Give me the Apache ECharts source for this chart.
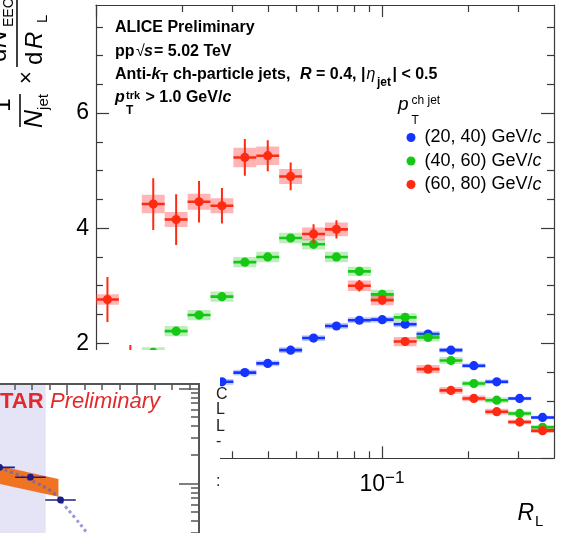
<!DOCTYPE html>
<html>
<head>
<meta charset="utf-8">
<script src="https://cdn.jsdelivr.net/npm/echarts@6/dist/echarts.min.js"></script>
<style>
  html, body { margin: 0; padding: 0; background: #fff; }
  #chart { width: 564px; height: 533px; }
</style>
</head>
<body>
<div id="chart"></div>
<script>
// ---- R_L binning (log-spaced bins between 0.01 and 0.4) ----
const RL_EDGES = [0.010000, 0.012026, 0.014461, 0.017390, 0.020913, 0.025149, 0.030242, 0.036368,
  0.043734, 0.052593, 0.063245, 0.076056, 0.091461, 0.109986, 0.132264, 0.159054, 0.191270,
  0.230013, 0.276600, 0.332626, 0.400000];
const RL_CENTERS = [0.010966, 0.013187, 0.015858, 0.019070, 0.022933, 0.027578, 0.033164, 0.039881,
  0.047960, 0.057674, 0.069356, 0.083404, 0.100297, 0.120612, 0.145042, 0.174420, 0.209749,
  0.252234, 0.303325, 0.364767];

// ---- EEC distributions per charged-jet pT interval ----
const EEC_20_40  = [null, null, null, null, null, 1.33, 1.49, 1.65, 1.88, 2.09, 2.30, 2.40, 2.41, 2.33, 2.16, 1.88, 1.61, 1.33, 1.04, 0.71];
const STAT_20_40 = [null, null, null, null, null, 0.02, 0.02, 0.02, 0.02, 0.02, 0.02, 0.02, 0.02, 0.02, 0.02, 0.02, 0.02, 0.02, 0.02, 0.02];
const SYS_20_40  = [null, null, null, null, null, 0.05, 0.05, 0.05, 0.05, 0.05, 0.05, 0.05, 0.05, 0.05, 0.05, 0.04, 0.04, 0.04, 0.03, 0.03];

const EEC_40_60  = [null, null, 1.84, 2.21, 2.49, 2.81, 3.41, 3.50, 3.83, 3.72, 3.50, 3.25, 2.85, 2.45, 2.10, 1.70, 1.30, 1.01, 0.78, 0.54];
const STAT_40_60 = [null, null, 0.07, 0.06, 0.05, 0.05, 0.05, 0.04, 0.04, 0.04, 0.04, 0.03, 0.03, 0.03, 0.03, 0.02, 0.02, 0.02, 0.02, 0.02];
const SYS_40_60  = [null, null, 0.09, 0.09, 0.09, 0.09, 0.09, 0.09, 0.09, 0.09, 0.09, 0.08, 0.08, 0.07, 0.07, 0.06, 0.05, 0.05, 0.04, 0.04];

const EEC_60_80  = [2.76, 1.60, 4.42, 4.15, 4.46, 4.39, 5.23, 5.26, 4.90, 3.90, 3.98, 3.00, 2.75, 2.03, 1.55, 1.18, 1.04, 0.81, 0.63, 0.48];
const STAT_60_80 = [0.39, 0.37, 0.45, 0.44, 0.36, 0.31, 0.32, 0.27, 0.24, 0.17, 0.16, 0.10, 0.08, 0.06, 0.05, 0.04, 0.04, 0.03, 0.03, 0.03];
const SYS_60_80  = [0.09, 0.09, 0.16, 0.13, 0.14, 0.13, 0.17, 0.16, 0.13, 0.11, 0.12, 0.09, 0.09, 0.08, 0.07, 0.06, 0.05, 0.05, 0.04, 0.04];

const LEGEND_NAMES = ['(20, 40) GeV/c', '(40, 60) GeV/c', '(60, 80) GeV/c'];

// ---- ALICE axes ----
const Y_MAJOR = [0, 2, 4, 6];
const Y_LABELS = [2, 4, 6];
const Y_MINOR = [0.5, 1, 1.5, 2.5, 3, 3.5, 4.5, 5, 5.5, 6.5, 7, 7.5];
const X_MAJOR = [0.01, 0.1];
const X_LABELS = [0.1];
const X_MINOR = [0.02, 0.03, 0.04, 0.05, 0.06, 0.07, 0.08, 0.09, 0.2, 0.3];

// ---- STAR panel ----
const STAR_X    = [0.104, 0.148, 0.191];
const STAR_XERR = [0.0218, 0.0218, 0.0218];
const STAR_Y    = [0.147, 0.116, 0.0667];
const BAND_X    = [0.100, 0.188];
const BAND_LO   = [0.100, 0.072];
const BAND_HI   = [0.155, 0.111];
const MODEL_X   = [0.095, 0.148, 0.183, 0.197, 0.212, 0.229, 0.240];
const MODEL_Y   = [0.152, 0.108, 0.077, 0.058, 0.043, 0.030, 0.024];
const SHADE_X   = [0.050, 0.1698];
const STAR_X_MAJOR = [0.1, 0.2, 0.3];
const STAR_X_MINOR = [0.125, 0.15, 0.175, 0.225, 0.25, 0.275, 0.325, 0.35, 0.375];
const STAR_Y_MAJOR = [0.01, 0.1, 1];
const STAR_Y_MINOR = [0.02, 0.03, 0.04, 0.05, 0.06, 0.07, 0.08, 0.09, 0.2, 0.3, 0.4, 0.5, 0.6, 0.7, 0.8, 0.9];

const FAM = '"Liberation Sans", Arial, Helvetica, sans-serif';
const AX = '#3a3a3a';
const STAR_AX = '#555';

const chart = echarts.init(document.getElementById('chart'), null, { renderer: 'canvas', width: 564, height: 533 });

// text runs laid out left to right, positioned by baseline
const measureCtx = document.createElement('canvas').getContext('2d');
function fontOf(p) { return (p.i ? 'italic ' : '') + (p.b ? 'bold ' : '') + p.f + 'px ' + FAM; }
function runs(parts, z) {
  const out = [];
  let cursor = 0;
  parts.forEach(p => {
    const font = fontOf(p);
    measureCtx.font = font;
    const w = measureCtx.measureText(p.t).width;
    const x = p.x != null ? p.x : cursor + (p.dx || 0);
    out.push({
      type: 'text', x: x, y: p.base - 0.347 * p.f, z: z, silent: true,
      style: { text: p.t, font: font, fill: p.c || '#000', align: 'left', verticalAlign: 'middle',
               textAlign: 'left', textVerticalAlign: 'middle' }
    });
    cursor = x + w;
  });
  return out;
}

function pointRows(vals, stat, sys) {
  const rows = [];
  vals.forEach((v, k) => {
    if (v == null) return;
    rows.push([RL_CENTERS[k], v, RL_EDGES[k], RL_EDGES[k + 1], stat[k], sys[k]]);
  });
  return rows;
}

// data point with systematic box, bin-width bar and statistical bar
function eecSeries(name, rows, color, boxFill, z) {
  return {
    name: name, type: 'custom', xAxisIndex: 0, yAxisIndex: 0, z: z, clip: true,
    itemStyle: { color: color },
    encode: { x: 0, y: 1 },
    data: rows,
    renderItem: function (params, api) {
      const x = api.value(0), y = api.value(1), lo = api.value(2), hi = api.value(3);
      const st = api.value(4), sy = api.value(5);
      const c = api.coord([x, y]);
      const l = api.coord([lo, y]);
      const h = api.coord([hi, y]);
      const sT = api.coord([x, y + sy]), sB = api.coord([x, y - sy]);
      const eT = api.coord([x, y + st]), eB = api.coord([x, y - st]);
      return {
        type: 'group',
        children: [
          { type: 'rect', shape: { x: l[0], y: sT[1], width: h[0] - l[0], height: sB[1] - sT[1] },
            style: { fill: boxFill } },
          { type: 'line', shape: { x1: l[0], y1: c[1], x2: h[0], y2: c[1] },
            style: { stroke: color, lineWidth: 2.6 } },
          { type: 'line', shape: { x1: c[0], y1: eT[1], x2: c[0], y2: eB[1] },
            style: { stroke: color, lineWidth: 2 } },
          { type: 'circle', shape: { cx: c[0], cy: c[1], r: 4.6 }, style: { fill: color } }
        ]
      };
    }
  };
}

const BLUE = '#1434ff', GREEN = '#14c814', RED = '#ff2a12';

const noGrid = { outerBoundsMode: 'none', containLabel: false, show: false };
const ALICE_RECT = { left: 96, top: 5, right: 10, bottom: 74.7 };
const STAR_RECT = { left: -73.3, top: 384, width: 272.3, height: 194.3 };

function tickAxis(base, extra) { return Object.assign({}, base, extra); }

function line(color, width) { return { show: true, onZero: false, lineStyle: { color: color, width: width } }; }
const hiddenLine = { show: false, onZero: false };

const aliceX = { type: 'log', logBase: 10, min: 0.01, max: 0.4, splitLine: { show: false }, z: 0 };
const aliceY = { type: 'value', min: 0, max: 7.88, splitLine: { show: false }, z: 0 };
const starX = { type: 'value', min: 0, max: 0.3886, splitLine: { show: false }, z: 20 };
const starY = { type: 'log', logBase: 10, min: 0.01, max: 1.11, splitLine: { show: false }, z: 20 };

const option = {
  animation: false,
  backgroundColor: '#fff',
  textStyle: { fontFamily: FAM },
  grid: [
    Object.assign({}, noGrid, ALICE_RECT),
    Object.assign({}, noGrid, ALICE_RECT),
    Object.assign({}, noGrid, STAR_RECT),
    Object.assign({}, noGrid, STAR_RECT)
  ],
  xAxis: [
    tickAxis(aliceX, {
      gridIndex: 0, position: 'bottom',
      axisLine: line(AX, 1.2),
      axisTick: { show: true, inside: true, length: 12, customValues: X_MAJOR, lineStyle: { color: AX, width: 1.2 } },
      axisLabel: {
        show: true, customValues: X_LABELS, margin: 12,
        formatter: function () { return '{a|10}{s|\u22121}'; },
        rich: {
          a: { fontSize: 23, fontFamily: FAM, color: '#000', verticalAlign: 'middle' },
          s: { fontSize: 17, fontFamily: FAM, color: '#000', padding: [0, 0, 12, 0], verticalAlign: 'middle' }
        }
      }
    }),
    tickAxis(aliceX, {
      gridIndex: 0, position: 'top',
      axisLine: line(AX, 1.2),
      axisTick: { show: true, inside: true, length: 12, customValues: X_MAJOR, lineStyle: { color: AX, width: 1.2 } },
      axisLabel: { show: false }
    }),
    tickAxis(aliceX, {
      gridIndex: 1, position: 'bottom',
      axisLine: hiddenLine,
      axisTick: { show: true, inside: true, length: 7, customValues: X_MINOR, lineStyle: { color: AX, width: 1.2 } },
      axisLabel: { show: false }
    }),
    tickAxis(aliceX, {
      gridIndex: 1, position: 'top',
      axisLine: hiddenLine,
      axisTick: { show: true, inside: true, length: 7, customValues: X_MINOR, lineStyle: { color: AX, width: 1.2 } },
      axisLabel: { show: false }
    }),
    tickAxis(starX, {
      gridIndex: 2, position: 'top',
      axisLine: line(STAR_AX, 2),
      axisTick: { show: true, inside: true, length: 11, customValues: STAR_X_MAJOR, lineStyle: { color: STAR_AX, width: 1.5 } },
      axisLabel: { show: false }
    }),
    tickAxis(starX, {
      gridIndex: 3, position: 'top',
      axisLine: hiddenLine,
      axisTick: { show: true, inside: true, length: 6, customValues: STAR_X_MINOR, lineStyle: { color: STAR_AX, width: 1.5 } },
      axisLabel: { show: false }
    })
  ],
  yAxis: [
    tickAxis(aliceY, {
      gridIndex: 0, position: 'left',
      axisLine: line(AX, 1.2),
      axisTick: { show: true, inside: true, length: 13, customValues: Y_MAJOR, lineStyle: { color: AX, width: 1.2 } },
      axisLabel: { show: true, customValues: Y_LABELS, margin: 7, fontSize: 23, fontFamily: FAM, color: '#000' }
    }),
    tickAxis(aliceY, {
      gridIndex: 0, position: 'right',
      axisLine: line(AX, 1.2),
      axisTick: { show: true, inside: true, length: 13, customValues: Y_MAJOR, lineStyle: { color: AX, width: 1.2 } },
      axisLabel: { show: false }
    }),
    tickAxis(aliceY, {
      gridIndex: 1, position: 'left',
      axisLine: hiddenLine,
      axisTick: { show: true, inside: true, length: 7, customValues: Y_MINOR, lineStyle: { color: AX, width: 1.2 } },
      axisLabel: { show: false }
    }),
    tickAxis(aliceY, {
      gridIndex: 1, position: 'right',
      axisLine: hiddenLine,
      axisTick: { show: true, inside: true, length: 7, customValues: Y_MINOR, lineStyle: { color: AX, width: 1.2 } },
      axisLabel: { show: false }
    }),
    tickAxis(starY, {
      gridIndex: 2, position: 'right',
      axisLine: line(STAR_AX, 2),
      axisTick: { show: true, inside: true, length: 20, customValues: STAR_Y_MAJOR, lineStyle: { color: STAR_AX, width: 1.5 } },
      axisLabel: { show: false }
    }),
    tickAxis(starY, {
      gridIndex: 3, position: 'right',
      axisLine: hiddenLine,
      axisTick: { show: true, inside: true, length: 8, customValues: STAR_Y_MINOR, lineStyle: { color: STAR_AX, width: 1.5 } },
      axisLabel: { show: false }
    })
  ],
  legend: {
    data: LEGEND_NAMES,
    orient: 'vertical',
    left: 406.5, top: 127.5,
    itemWidth: 9, itemHeight: 9, itemGap: 3.5,
    icon: 'circle',
    selectedMode: false,
    padding: 0,
    formatter: function (name) { return '{n|' + name.slice(0, -1) + '}{i|c}'; },
    textStyle: {
      fontFamily: FAM, fontSize: 18, color: '#000', lineHeight: 20,
      rich: {
        n: { fontFamily: FAM, fontSize: 18, color: '#000', lineHeight: 20, padding: [0, 0, 0, 4] },
        i: { fontFamily: FAM, fontSize: 18, color: '#000', lineHeight: 20, fontStyle: 'italic' }
      }
    }
  },
  series: [
    eecSeries(LEGEND_NAMES[0], pointRows(EEC_20_40, STAT_20_40, SYS_20_40), BLUE, 'rgba(40,70,255,0.30)', 3),
    eecSeries(LEGEND_NAMES[1], pointRows(EEC_40_60, STAT_40_60, SYS_40_60), GREEN, 'rgba(30,200,30,0.30)', 4),
    eecSeries(LEGEND_NAMES[2], pointRows(EEC_60_80, STAT_60_80, SYS_60_80), RED, 'rgba(255,60,60,0.38)', 5),

    // STAR panel: shaded region
    {
      type: 'custom', xAxisIndex: 4, yAxisIndex: 4, z: 20, clip: true, silent: true,
      data: [[SHADE_X[0], SHADE_X[1]]],
      renderItem: function (params, api) {
        const cs = params.coordSys;
        const a = api.coord([api.value(0), 0.1]);
        const b = api.coord([api.value(1), 0.1]);
        return { type: 'rect', shape: { x: a[0], y: cs.y, width: b[0] - a[0], height: cs.height },
                 style: { fill: '#e4e4f6' } };
      }
    },
    // STAR panel: orange band
    {
      type: 'custom', xAxisIndex: 4, yAxisIndex: 4, z: 21, clip: true, silent: true,
      data: BAND_X.map((x, i) => [x, BAND_LO[i], BAND_HI[i]]),
      renderItem: function (params, api) {
        if (params.dataIndex !== 0) return null;
        const upper = BAND_X.map((x, i) => api.coord([x, BAND_HI[i]]));
        const lower = BAND_X.map((x, i) => api.coord([x, BAND_LO[i]])).reverse();
        return { type: 'polygon', shape: { points: upper.concat(lower) }, style: { fill: '#ee7424' } };
      }
    },
    // STAR panel: dotted model curve
    {
      type: 'line', xAxisIndex: 4, yAxisIndex: 4, z: 22, silent: true, clip: true,
      symbol: 'none', smooth: true,
      data: MODEL_X.map((x, i) => [x, MODEL_Y[i]]),
      lineStyle: { type: 'dotted', width: 3, color: 'rgba(95,95,200,0.65)' }
    },
    // STAR panel: data points
    {
      type: 'custom', xAxisIndex: 4, yAxisIndex: 4, z: 23, clip: true, silent: true,
      data: STAR_X.map((x, i) => [x, STAR_Y[i], STAR_XERR[i]]),
      renderItem: function (params, api) {
        const x = api.value(0), y = api.value(1), dx = api.value(2);
        const c = api.coord([x, y]);
        const l = api.coord([x - dx, y]);
        const h = api.coord([x + dx, y]);
        return {
          type: 'group',
          children: [
            { type: 'line', shape: { x1: l[0], y1: c[1], x2: h[0], y2: c[1] }, style: { stroke: '#1c1c86', lineWidth: 1.6 } },
            { type: 'circle', shape: { cx: c[0], cy: c[1], r: 3.4 }, style: { fill: '#1c1c86' } }
          ]
        };
      }
    }
  ],
  graphic: []
};

// white panel behind the STAR figure
const graphics = [
  { type: 'rect', shape: { x: 0, y: 350, width: 220, height: 183 }, style: { fill: '#fff' }, z: 10, silent: true }
];

// ALICE annotation block
const Z_TXT = 30;
graphics.push(...runs([{ t: 'ALICE Preliminary', f: 16, b: 1, x: 115, base: 33.3 }], Z_TXT));
graphics.push(...runs([
  { t: 'pp', f: 16, b: 1, x: 115, base: 57 },
  { t: '\u221A', f: 16, x: 136, base: 57 },
  { t: 's', f: 16, b: 1, i: 1, x: 144, base: 57 },
  { t: '= 5.02 TeV', f: 16, b: 1, x: 154, base: 57 }
], Z_TXT));
graphics.push(...runs([
  { t: 'Anti-', f: 16, b: 1, x: 115, base: 80 },
  { t: 'k', f: 16, b: 1, i: 1, base: 80 },
  { t: 'T', f: 13, b: 1, base: 82.5 },
  { t: 'ch-particle jets,', f: 16, b: 1, x: 173, base: 80 },
  { t: 'R', f: 16, b: 1, i: 1, x: 300, base: 80 },
  { t: ' = 0.4, |', f: 16, b: 1, base: 80 },
  { t: '\u03B7', f: 16, i: 1, x: 366.5, base: 80 },
  { t: 'jet', f: 12, b: 1, x: 377, base: 86.5 },
  { t: '| < 0.5', f: 16, b: 1, x: 392.5, base: 80 }
], Z_TXT));
graphics.push(...runs([
  { t: 'p', f: 16, b: 1, i: 1, x: 115, base: 103.3 },
  { t: 'trk', f: 11, b: 1, x: 126, base: 99.5 },
  { t: 'T', f: 12, b: 1, x: 126, base: 114.5 },
  { t: ' > 1.0 GeV/', f: 16, b: 1, x: 141, base: 103.3 },
  { t: 'c', f: 16, b: 1, i: 1, base: 103.3 }
], Z_TXT));

// legend header p_T^{ch jet}
graphics.push(...runs([
  { t: 'p', f: 19, i: 1, x: 398, base: 111.7 },
  { t: 'ch jet', f: 12, x: 411.5, base: 105 },
  { t: 'T', f: 12, x: 411.5, base: 124.5 }
], Z_TXT));

// x-axis title R_L
graphics.push(...runs([
  { t: 'R', f: 23, i: 1, x: 517.5, base: 521.7 },
  { t: 'L', f: 15, dx: 1, base: 527 }
], Z_TXT));

// y-axis title (rotated): 1/N_jet x dN_EEC/dR_L
const yTitle = [];
yTitle.push(...runs([{ t: '1', f: 24, x: -111.7, base: 12 }], Z_TXT));
yTitle.push({ type: 'line', z: Z_TXT, shape: { x1: -127, y1: 20, x2: -94, y2: 20 }, style: { stroke: '#000', lineWidth: 1.5 } });
yTitle.push(...runs([
  { t: 'N', f: 25, i: 1, x: -128, base: 43.5 },
  { t: 'jet', f: 15, base: 49.5 }
], Z_TXT));
yTitle.push(...runs([{ t: '\u00D7', f: 22, x: -84, base: 34.3 }], Z_TXT));
yTitle.push({ type: 'line', z: Z_TXT, shape: { x1: -67, y1: 17, x2: 4, y2: 17 }, style: { stroke: '#000', lineWidth: 1.5 } });
yTitle.push(...runs([
  { t: 'd', f: 24, x: -65, base: 43.5 },
  { t: 'R', f: 24, i: 1, x: -49, base: 43.5 },
  { t: 'L', f: 15, x: -23, base: 48.5 }
], Z_TXT));
yTitle.push(...runs([
  { t: 'd', f: 24, x: -62, base: 8 },
  { t: 'N', f: 24, i: 1, x: -48, base: 8 },
  { t: 'EEC', f: 14, x: -27, base: 14 }
], Z_TXT));
graphics.push({ type: 'group', x: 0, y: 0, rotation: Math.PI / 2, z: Z_TXT, children: yTitle });

// STAR panel label
measureCtx.font = fontOf({ f: 22, b: 1 });
const sWidth = measureCtx.measureText('S').width;
graphics.push(...runs([
  { t: 'STAR', f: 22, b: 1, x: -sWidth, base: 409.3, c: '#e12a2c' },
  { t: 'Preliminary', f: 22, i: 1, x: 50, base: 409.3, c: '#e12a2c' }
], Z_TXT));

// text fragments at the panel edge
graphics.push(...runs([
  { t: 'C', f: 16, x: 216, base: 400, c: '#222' },
  { t: 'L', f: 16, x: 216, base: 415, c: '#222' },
  { t: 'L', f: 16, x: 216, base: 432, c: '#222' },
  { t: '-', f: 16, x: 216, base: 447, c: '#222' },
  { t: ':', f: 16, x: 216, base: 487, c: '#222' }
], Z_TXT));

option.graphic = { elements: graphics };
chart.setOption(option);
</script>
</body>
</html>
